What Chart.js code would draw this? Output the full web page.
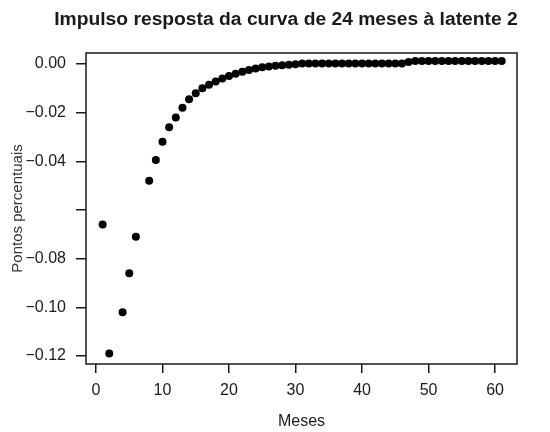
<!DOCTYPE html>
<html>
<head>
<meta charset="utf-8">
<script src="https://cdn.jsdelivr.net/npm/chart.js@4/dist/chart.umd.min.js"></script>
<style>
  html, body { margin: 0; padding: 0; background: #fff; }
  #wrap { position: relative; width: 550px; height: 432px; }
</style>
</head>
<body>
<div id="wrap"><canvas id="chart"></canvas></div>
<script>
// Dados (meses 3 e 7 não aparecem na figura)
const chartTitle = 'Impulso resposta da curva de 24 meses à latente 2';
const xTitle = 'Meses';
const yTitle = 'Pontos percentuais';

const months = [1, 2, 4, 5, 6, 8, 9, 10, 11, 12, 13, 14, 15, 16, 17, 18, 19, 20,
  21, 22, 23, 24, 25, 26, 27, 28, 29, 30, 31, 32, 33, 34, 35, 36, 37, 38, 39, 40,
  41, 42, 43, 44, 45, 46, 47, 48, 49, 50, 51, 52, 53, 54, 55, 56, 57, 58, 59, 60, 61];

const values = [-0.066, -0.119, -0.102, -0.086, -0.071, -0.048, -0.0395, -0.032, -0.026, -0.022,
  -0.018, -0.0145, -0.012, -0.010, -0.0085, -0.0072, -0.0060, -0.0050,
  -0.0040, -0.0032, -0.0025, -0.0019, -0.0014, -0.0010, -0.0007, -0.0005, -0.0003, -0.0001,
  0.0002, 0.0002, 0.0002, 0.0002, 0.0002, 0.0002, 0.0002, 0.0002, 0.0002, 0.0002,
  0.0002, 0.0002, 0.0002, 0.0002, 0.0002, 0.0002, 0.0008, 0.0012, 0.0012, 0.0012,
  0.0012, 0.0012, 0.0012, 0.0012, 0.0012, 0.0012, 0.0012, 0.0012, 0.0012, 0.0012, 0.0012];

const xTicks = [0, 10, 20, 30, 40, 50, 60];
const yTicks = [0, -0.02, -0.04, -0.06, -0.08, -0.10, -0.12];
const yTickLabels = ['0.00', '\u22120.02', '\u22120.04', '', '\u22120.08', '\u22120.10', '\u22120.12'];

const ink = '#1a1a1a';
const fontFamily = '"Liberation Sans", Arial, Helvetica, sans-serif';

// Caixa em volta da área do gráfico + título (um pouco esticado na horizontal)
const boxPlugin = {
    id: 'box',
    afterDraw(chart) {
        const { ctx, chartArea: a } = chart;
        ctx.save();
        ctx.strokeStyle = ink;
        ctx.lineWidth = 1.5;
        ctx.strokeRect(a.left, a.top, a.right - a.left, a.bottom - a.top);
        ctx.fillStyle = ink;
        ctx.font = 'bold 18px ' + fontFamily;
        ctx.textAlign = 'center';
        ctx.textBaseline = 'alphabetic';
        ctx.translate(286, 25);
        ctx.scale(1.07, 1);
        ctx.fillText(chartTitle, 0, 0);
        ctx.restore();
    }
};

new Chart(document.getElementById('chart'), {
    type: 'scatter',
    data: {
        datasets: [{
            data: months.map((m, i) => ({ x: m, y: values[i] })),
            backgroundColor: '#000',
            borderWidth: 0,
            pointRadius: 4,
            pointHoverRadius: 4,
        }]
    },
    options: {
        responsive: true,
        maintainAspectRatio: false,
        animation: false,
        layout: { padding: { left: 0, top: 53, right: 33, bottom: 0 } },
        plugins: {
            legend: { display: false },
            title: { display: false },
            tooltip: { enabled: false },
        },
        scales: {
            x: {
                type: 'linear',
                min: -1.5,
                max: 63.3,
                afterBuildTicks: axis => { axis.ticks = xTicks.map(v => ({ value: v })); },
                afterFit: scale => { scale.height = 68; },
                border: { display: false },
                grid: { drawOnChartArea: false, drawTicks: true, tickLength: 9, color: ink, lineWidth: 1.5 },
                ticks: {
                    color: ink,
                    padding: 8,
                    maxRotation: 0,
                    font: { family: fontFamily, size: 16 },
                },
                title: {
                    display: true,
                    text: xTitle,
                    color: ink,
                    padding: { top: 0, bottom: 1 },
                    font: { family: fontFamily, size: 16 },
                },
            },
            y: {
                type: 'linear',
                min: -0.1233,
                max: 0.0045,
                afterBuildTicks: axis => { axis.ticks = yTicks.map(v => ({ value: v })); },
                afterFit: scale => { scale.width = 86; },
                border: { display: false },
                grid: { drawOnChartArea: false, drawTicks: true, tickLength: 10, color: ink, lineWidth: 1.5 },
                ticks: {
                    color: ink,
                    padding: 10,
                    font: { family: fontFamily, size: 16 },
                    callback: (value, index) => yTickLabels[index],
                },
                title: {
                    display: true,
                    text: yTitle,
                    color: '#333',
                    padding: { top: 9, bottom: 0 },
                    font: { family: fontFamily, size: 15 },
                },
            },
        },
    },
    plugins: [boxPlugin],
});
</script>
</body>
</html>
